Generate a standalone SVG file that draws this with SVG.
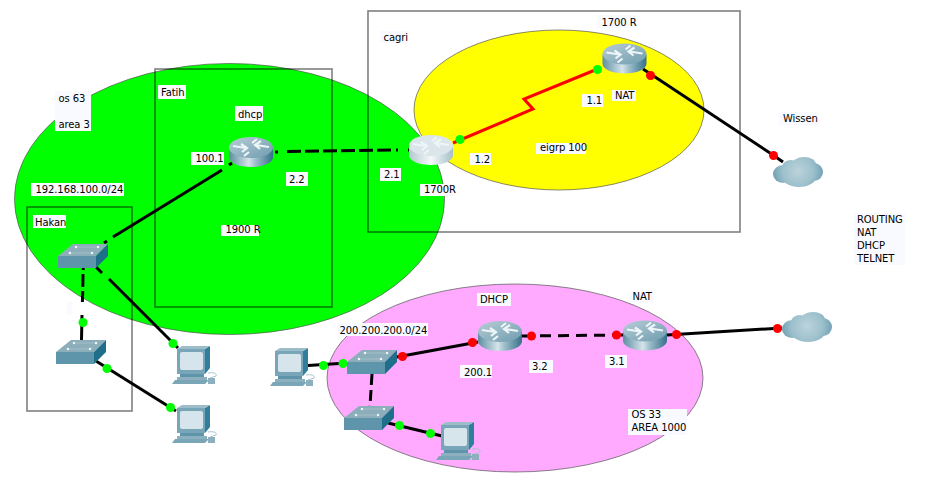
<svg xmlns="http://www.w3.org/2000/svg" width="925" height="489" viewBox="0 0 925 489">
<style>
.area{stroke:#555;stroke-width:.7}
.box{fill:none;stroke:#000;stroke-opacity:.5;stroke-width:1.6}
.lnk{fill:none;stroke:#000;stroke-width:3}
.red{fill:none;stroke:#f00;stroke-width:3}
.g{fill:#0f0}
.r{fill:#f00}
.lb{fill:#f8faff}
text{font-family:"DejaVu Sans","Liberation Sans",sans-serif;font-size:10px;letter-spacing:-.1px;fill:#000}
</style>
<defs>
<linearGradient id="side" x1="0" x2="1" y1="0" y2="0"><stop offset="0" stop-color="#5d8ea1"/><stop offset=".45" stop-color="#d5e4ea"/><stop offset=".6" stop-color="#9fbfcb"/><stop offset="1" stop-color="#35708a"/></linearGradient>
<linearGradient id="sideS" x1="0" x2="1" y1="0" y2="0"><stop offset="0" stop-color="#b4c8d0"/><stop offset=".5" stop-color="#f4f8fa"/><stop offset="1" stop-color="#a6bfc9"/></linearGradient>
<linearGradient id="topR" x1="0" x2="1" y1="0" y2="1"><stop offset="0" stop-color="#b7cdd6"/><stop offset="1" stop-color="#6f9cae"/></linearGradient>
<radialGradient id="cl" gradientUnits="userSpaceOnUse" cx="25" cy="14" r="26"><stop offset="0" stop-color="#bcd3db"/><stop offset=".6" stop-color="#9cc0cc"/><stop offset="1" stop-color="#6f9fb2"/></radialGradient>
<g id="arrows" fill="none" stroke="#eef5f8" stroke-width="2.2"><path d="M4 9 17 11M12 7 18 11 13 15M20 15 15 19M40 10 27 8M32 4 26 8 31 12M28 2 23 6"/></g>
<g id="router"><path d="M0 11V20C0 26 10 30 22 30S44 26 44 20V11Z" fill="url(#side)"/><ellipse cx="22" cy="10.500" rx="22" ry="10.500" fill="url(#topR)"/><use href="#arrows"/></g>
<g id="routerS"><path d="M0 11V20C0 26 10 30 22 30S44 26 44 20V11Z" fill="url(#sideS)"/><ellipse cx="22" cy="10.500" rx="22" ry="10.500" fill="#dbe6ea"/><use href="#arrows"/></g>
<g id="switch"><path d="M15 0H50L38 12H0Z" fill="#8cadba"/><rect y="12" width="38" height="12" fill="#5f95aa"/><path d="M38 12 50 0V12L38 24Z" fill="#1f6f8b"/><g fill="#eef5f8"><circle cx="18" cy="3" r="1.300"/><circle cx="40" cy="3" r="1.300"/><circle cx="12" cy="9" r="1.300"/><circle cx="34" cy="9" r="1.300"/></g><path d="M20 3H38M14 9H32" stroke="#a9c4ce" stroke-width=".8"/></g>
<g id="pc"><path d="M33 2 38 -1V21L33 27Z" fill="#2f7f9c"/><path d="M5 2 10 -1H38L33 2Z" fill="#9dbcc9"/><rect x="5" y="2" width="28" height="25" fill="#78a5b7"/><rect x="8" y="5" width="23" height="18" rx="2" fill="#d6e4ec"/><rect x="8" y="27" width="24" height="3" fill="#5f95aa"/><path d="M5 30H35V33H5Z" fill="#8cb0be"/><path d="M3 33H37L33 37H0Z" fill="#7aa6b8"/><path d="M36 26C43 25 45 27 44 29L38 31" fill="none" stroke="#a9c4ce"/><rect x="36" y="31" width="7" height="6" fill="#8cb0be"/></g>
<g id="cloud"><g fill="url(#cl)"><ellipse cx="10" cy="17" rx="10" ry="9"/><ellipse cx="18" cy="10" rx="9" ry="7"/><ellipse cx="31" cy="8" rx="12" ry="8"/><ellipse cx="41" cy="15" rx="9" ry="9"/><ellipse cx="26" cy="20" rx="17" ry="10"/><ellipse cx="25" cy="15" rx="20" ry="10"/></g></g>
</defs>
<rect width="925" height="489" fill="#fff"/>
<g id="areas">
<ellipse class="area" cx="229.500" cy="199" rx="215" ry="135.500" fill="#0f0"/>
<ellipse class="area" cx="559" cy="110" rx="145" ry="80" fill="#ff0"/>
<ellipse class="area" cx="515" cy="378" rx="188" ry="94" fill="#faf"/>
<rect class="box" x="155" y="69" width="177" height="238"/>
<rect class="box" x="27" y="207" width="105" height="204"/>
<rect class="box" x="368" y="11" width="372" height="221"/>
</g>
<g id="connectors">
<path class="lnk" d="M113 237 222 170M104 243 107 241M229 165 232 163M95 266 102 273M109 279 178 348"/>
<path class="lnk" stroke-dasharray="14 4" d="M287 151.500 394 150"/>
<path class="lnk" d="M275 152H278M396 150H398M408 150H410"/>
<path class="lnk" d="M83.500 268 83 270M83 274 82.800 287M82.700 291 82.400 302M82 315 81.500 340"/>
<path class="lnk" d="M96 361 176 411"/>
<path class="red" d="M453 143 533 109 524 99 600 68"/>
<path class="lnk" d="M643 69 773 155 783 162"/>
<path class="lnk" d="M308 365.500 347 363"/>
<path class="lnk" d="M397 357 478 342"/>
<path class="lnk" stroke-dasharray="11 5" d="M372 374 370 406"/>
<path class="lnk" d="M388 423 442 436"/>
<path class="lnk" stroke-dasharray="11 7" d="M522 336 623 335"/>
<path class="lnk" d="M667 335 782 328"/>
<g class="g"><circle cx="83" cy="322.500" r="4.500"/><circle cx="173" cy="343.500" r="4.500"/><circle cx="107" cy="368.500" r="4.500"/><circle cx="170.500" cy="407.500" r="4.500"/><circle cx="460" cy="139.500" r="4.500"/><circle cx="597.500" cy="69.500" r="4.500"/><circle cx="323.500" cy="365.500" r="4.500"/><circle cx="343" cy="363.500" r="4.500"/><circle cx="399.500" cy="425.500" r="4.500"/><circle cx="430.500" cy="433.500" r="4.500"/></g>
<g class="r"><circle cx="650.500" cy="75.500" r="4.500"/><circle cx="773.500" cy="155.500" r="4.500"/><circle cx="402.500" cy="356.500" r="4.500"/><circle cx="472.500" cy="342.500" r="4.500"/><circle cx="531.500" cy="336" r="4.500"/><circle cx="616.500" cy="335" r="4.500"/><circle cx="676.500" cy="334.500" r="4.500"/><circle cx="777.500" cy="328.500" r="4.500"/></g>
</g>
<g id="router-dhcp"><use href="#router" x="229" y="137"/></g>
<g id="router-1700-nat"><use href="#router" x="602.500" y="43.500"/></g>
<g id="router-1700r"><use href="#routerS" x="409" y="135"/></g>
<g id="router-pink-dhcp"><use href="#router" x="478" y="321"/></g>
<g id="router-pink-nat"><use href="#router" x="623" y="320.500"/></g>
<g id="switch-hakan-1"><use href="#switch" x="58" y="244"/></g>
<g id="switch-hakan-2"><use href="#switch" x="56" y="340"/></g>
<g id="switch-pink-1"><use href="#switch" x="347" y="350"/></g>
<g id="switch-pink-2"><use href="#switch" x="344" y="406"/></g>
<g id="pc-1"><use href="#pc" x="172" y="347"/></g>
<g id="pc-2"><use href="#pc" x="172" y="406"/></g>
<g id="pc-3"><use href="#pc" x="270" y="349"/></g>
<g id="pc-4"><use href="#pc" x="436" y="423"/></g>
<g id="cloud-wissen"><use href="#cloud" x="773" y="157"/></g>
<g id="cloud-2"><use href="#cloud" x="782" y="312"/></g>
<g id="labels">
<g class="lb">
<rect x="55" y="91" width="36" height="40"/><rect x="158" y="85" width="28" height="14"/><rect x="235" y="106" width="28" height="15"/><rect x="191" y="152" width="33" height="13"/><rect x="31" y="183" width="93" height="13"/><rect x="33" y="215" width="33" height="13"/><rect x="221" y="225" width="38" height="11"/><rect x="286" y="172" width="22" height="14"/><rect x="380" y="168" width="21" height="13"/><rect x="420" y="184" width="35" height="12"/><rect x="470" y="153" width="21" height="12"/><rect x="536" y="143" width="50" height="11"/><rect x="582" y="94" width="21" height="13"/><rect x="612" y="90" width="24" height="11"/><rect x="597" y="15" width="39" height="13"/><rect x="380" y="31" width="27" height="12"/><rect x="779" y="112" width="39" height="13"/><rect x="854" y="213" width="51" height="52"/><rect x="338" y="323" width="90" height="13"/><rect x="460" y="365" width="32" height="13"/><rect x="477" y="293" width="34" height="13"/><rect x="529" y="360" width="24" height="13"/><rect x="605" y="355" width="22" height="13"/><rect x="629" y="291" width="24" height="12"/><rect x="628" y="409" width="59" height="26"/><rect x="67" y="302" width="5" height="13"/>
</g>
<text x="58.500" y="102">os 63</text><text x="58.500" y="128">area 3</text>
<text x="161" y="96">Fatih</text><text x="238" y="118">dhcp</text><text x="195.500" y="162">100.1</text>
<text x="35.500" y="193">192.168.100.0/24</text><text x="35" y="226">Hakan</text><text x="225.500" y="233">1900 R</text>
<text x="289" y="183">2.2</text><text x="384" y="178">2.1</text><text x="424" y="193">1700R</text><text x="474.500" y="163">1.2</text>
<text x="540" y="151">eigrp 100</text><text x="586.500" y="104">1.1</text><text x="615" y="99">NAT</text><text x="601.500" y="26">1700 R</text><text x="383.500" y="41">cagri</text>
<text x="783" y="122">Wissen</text>
<text x="857" y="223">ROUTING</text><text x="857" y="236">NAT</text><text x="857" y="249">DHCP</text><text x="857" y="262">TELNET</text>
<text x="339.500" y="334">200.200.200.0/24</text><text x="464" y="376">200.1</text><text x="480" y="303">DHCP</text><text x="532" y="370">3.2</text><text x="609" y="365">3.1</text><text x="632.500" y="300">NAT</text>
<text x="631.500" y="418">OS 33</text><text x="631.500" y="431">AREA 1000</text>
</g>
</svg>
